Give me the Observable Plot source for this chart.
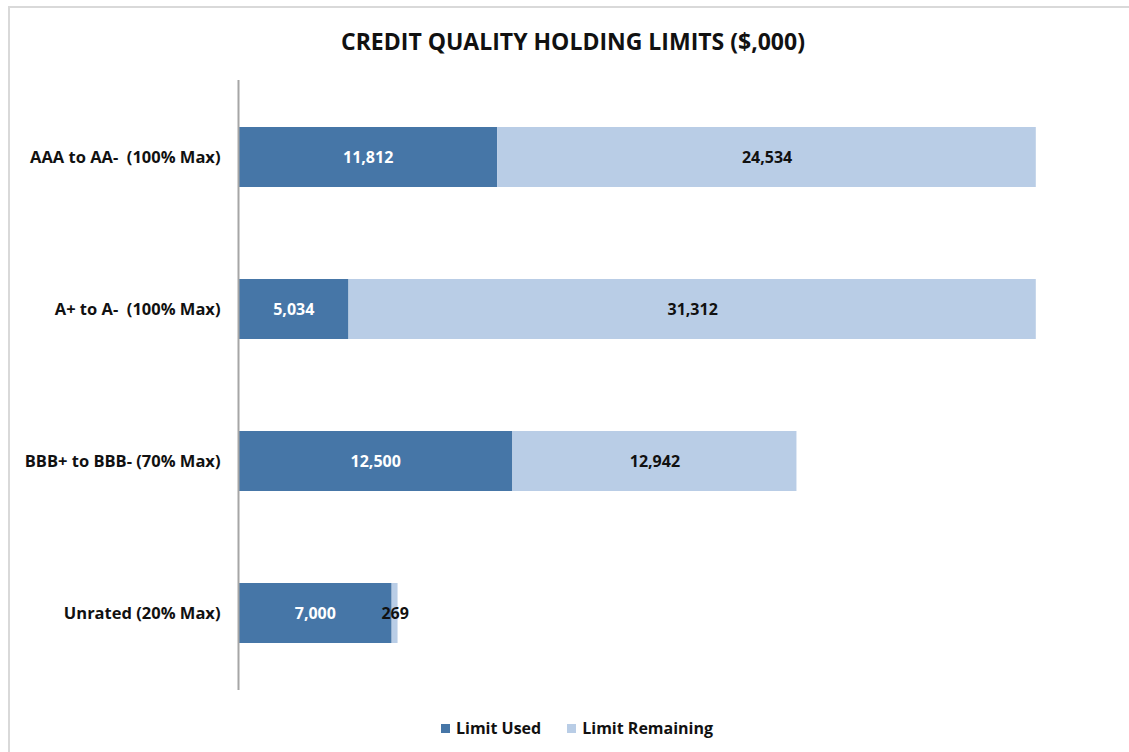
<!DOCTYPE html>
<html>
<head>
<meta charset="utf-8">
<script src="https://cdn.jsdelivr.net/npm/d3@7"></script>
<script src="https://cdn.jsdelivr.net/npm/@observablehq/plot@0.6"></script>
<style>
  html, body { margin: 0; padding: 0; background: #fff; }
  body { width: 1129px; height: 752px; overflow: hidden; position: relative; font-family: "Open Sans", sans-serif; }
  #frame { position: absolute; left: 8px; top: 6px; width: 1200px; height: 800px; border-left: 2px solid #d9d9d9; border-top: 2px solid #d9d9d9; }
  #title { position: absolute; left: 0; width: 1146px; top: 25px; text-align: center; font-weight: 700; font-size: 23px; color: #111; }
  #chart { position: absolute; left: 0; top: 80px; }
  #chart svg text { white-space: pre; }
  #legend { position: absolute; top: 717px; left: 0; width: 1154px; display: flex; justify-content: center; gap: 26px; font-weight: 700; font-size: 16px; color: #111; }
  #legend .item { display: flex; align-items: center; gap: 6px; }
  #legend .sw { width: 9px; height: 9px; display: inline-block; }
</style>
</head>
<body>
<div id="frame"></div>
<div id="title">CREDIT QUALITY HOLDING LIMITS ($,000)</div>
<div id="chart"></div>
<div id="legend"></div>
<script>
const categories = ["AAA to AA-  (100% Max)", "A+ to A-  (100% Max)", "BBB+ to BBB- (70% Max)", "Unrated (20% Max)"];
const limitUsed = [11812, 5034, 12500, 7000];
const limitRemaining = [24534, 31312, 12942, 269];
const seriesNames = ["Limit Used", "Limit Remaining"];
const seriesColors = ["#4676a7", "#b9cde6"];
const labelColors = ["#ffffff", "#111111"];

const data = [];
categories.forEach((c, i) => {
  data.push({cat: c, series: seriesNames[0], value: limitUsed[i]});
  data.push({cat: c, series: seriesNames[1], value: limitRemaining[i]});
});

const stackOpts = {x: "value", y: "cat", z: "series", order: seriesNames};

const plot = Plot.plot({
  width: 1129,
  height: 620,
  marginTop: 0,
  marginBottom: 10,
  marginLeft: 238,
  marginRight: 13,
  style: {fontFamily: "Open Sans, sans-serif", background: "transparent"},
  x: {domain: [0, 40000], axis: null},
  y: {domain: categories, paddingInner: 0.607, paddingOuter: 0.3035, label: null},
  color: {domain: seriesNames, range: seriesColors},
  marks: [
    Plot.barX(data, Plot.stackX({...stackOpts, fill: "series"})),
    Plot.axisY({tickSize: 0, tickPadding: 18, fontSize: 16.5, fontWeight: "bold", fill: "#111", label: null}),
    Plot.ruleX([0], {stroke: "#a6a6a6", strokeWidth: 2}),
    ...seriesNames.map((s, k) =>
      Plot.textX(data, Plot.filter(d => d.series === s, Plot.stackX({
        ...stackOpts,
        text: d => d3.format(",")(d.value),
        fill: labelColors[k],
        fontSize: 16,
        fontWeight: "bold"
      })))
    )
  ]
});
document.getElementById("chart").appendChild(plot);

const legend = document.getElementById("legend");
seriesNames.forEach((s, k) => {
  const item = document.createElement("div");
  item.className = "item";
  const sw = document.createElement("span");
  sw.className = "sw";
  sw.style.background = seriesColors[k];
  const lab = document.createElement("span");
  lab.textContent = s;
  item.appendChild(sw);
  item.appendChild(lab);
  legend.appendChild(item);
});
</script>
</body>
</html>
